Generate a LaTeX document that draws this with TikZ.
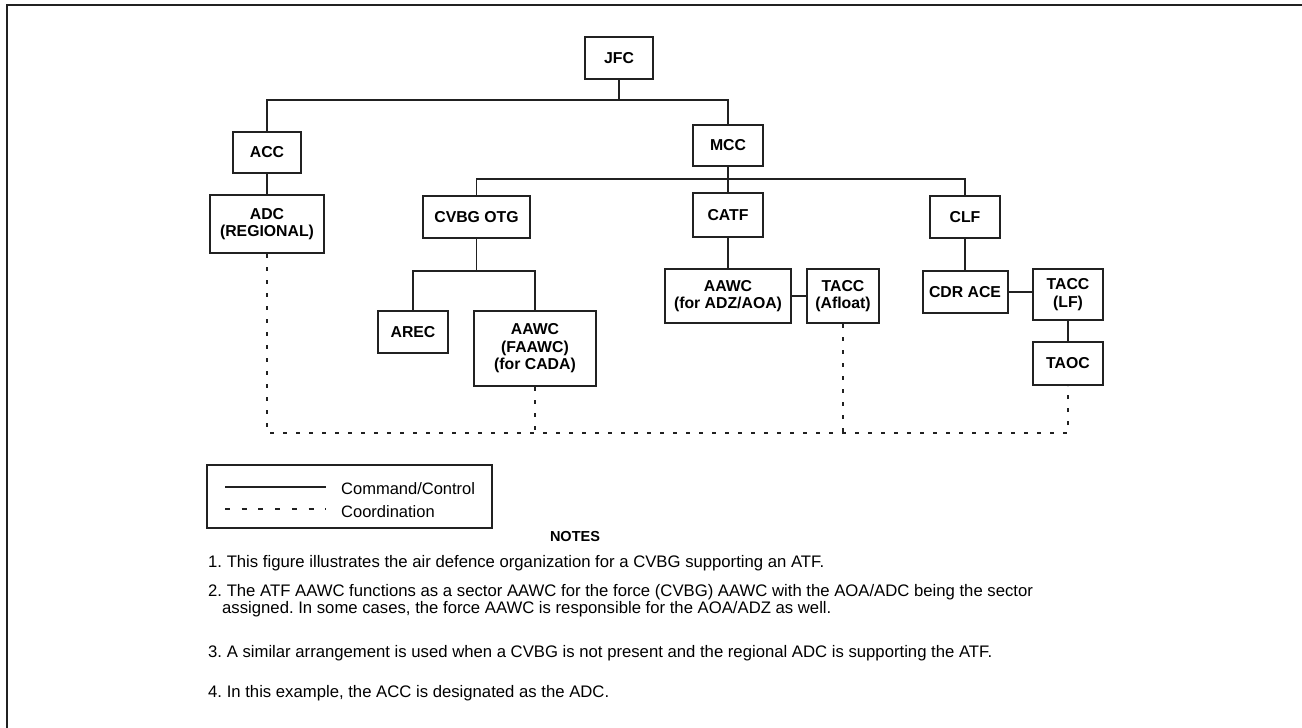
\documentclass[tikz,border=0pt]{standalone}
\usepackage{fontspec}
\setmainfont{Liberation Sans}
\frenchspacing
\begin{document}
\begin{tikzpicture}[x=1pt,y=-1pt,
  box/.style={draw=black!87, line width=2pt, align=center, inner sep=0pt,
    font=\fontsize{15.8pt}{17.5pt}\selectfont\bfseries},
  cc/.style={draw=black!87, line width=1.8pt},
  co/.style={draw=black!87, line width=2pt, dash pattern=on 4pt off 9pt},
  legdash/.style={draw=black!87, line width=1.8pt, dash pattern=on 5pt off 11.7pt},
  legtext/.style={anchor=base west, inner sep=0pt, font=\fontsize{16.5pt}{18pt}\selectfont},
  note/.style={anchor=base west, inner sep=0pt, font=\fontsize{16.7pt}{18pt}\selectfont}]
\useasboundingbox (0,0) rectangle (1302,728);

% page frame (top and left rules)
\draw[line width=2.6pt, black!87] (7,728) -- (7,5) -- (1302,5);

% organisation boxes
\node[box, minimum width=68pt, minimum height=42pt] (JFC) at (619,58) {JFC};
\node[box, minimum width=68pt, minimum height=41pt] (ACC) at (267,152.5) {ACC};
\node[box, minimum width=114pt, minimum height=58pt] (ADC) at (267,224) {ADC\\(REGIONAL)};
\node[box, minimum width=70pt, minimum height=41pt] (MCC) at (728,145.5) {MCC};
\node[box, minimum width=107pt, minimum height=42pt] (CVBG) at (476.5,217) {CVBG OTG};
\node[box, minimum width=70pt, minimum height=44pt] (CATF) at (728,215) {CATF};
\node[box, minimum width=70pt, minimum height=42pt] (CLF) at (965,217) {CLF};
\node[box, minimum width=70pt, minimum height=42pt] (AREC) at (413,332) {AREC};
\node[box, minimum width=122pt, minimum height=75pt] (FAAWC) at (535,348.5) {AAWC\\(FAAWC)\\(for CADA)};
\node[box, minimum width=126pt, minimum height=54pt] (AAWC) at (728,296) {AAWC\\(for ADZ/AOA)};
\node[box, minimum width=72pt, minimum height=54pt] (TACCA) at (843,296) {TACC\\(Afloat)};
\node[box, minimum width=85pt, minimum height=42pt] (CDR) at (965,292) {CDR ACE};
\node[box, minimum width=70pt, minimum height=51pt] (TACCL) at (1068,294.5) {TACC\\(LF)};
\node[box, minimum width=70pt, minimum height=43pt] (TAOC) at (1068,363.5) {TAOC};

% rail heights
\coordinate (railA) at (0,100);
\coordinate (railB) at (0,179);
\coordinate (railC) at (0,271);
\coordinate (railD) at (0,433);

% command / control
\draw[cc] (JFC.south) -- (JFC.south |- railA);
\draw[cc] (ACC.north) -- (ACC.north |- railA) -- (MCC.north |- railA) -- (MCC.north);
\draw[cc] (ACC.south) -- (ADC.north);
\draw[cc] (MCC.south) -- (CATF.north);
\draw[cc] (CVBG.north) -- (CVBG.north |- railB) -- (CLF.north |- railB) -- (CLF.north);
\draw[cc] (CVBG.south) -- (CVBG.south |- railC);
\draw[cc] (AREC.north) -- (AREC.north |- railC) -- (FAAWC.north |- railC) -- (FAAWC.north);
\draw[cc] (CATF.south) -- (AAWC.north);
\draw[cc] (AAWC.east) -- (TACCA.west);
\draw[cc] (CLF.south) -- (CDR.north);
\draw[cc] (CDR.east) -- (TACCL.west |- CDR.east);
\draw[cc] (TACCL.south) -- (TAOC.north);

% coordination
\draw[co] (ADC.south) -- (ADC.south |- railD) -- (TAOC.south |- railD) -- (TAOC.south);
\draw[co] (FAAWC.south) -- (FAAWC.south |- railD);
\draw[co] (TACCA.south) -- (TACCA.south |- railD);

% legend
\node[draw=black!87, line width=2pt, minimum width=285pt, minimum height=63pt, inner sep=0pt] (legend) at (349.5,496.5) {};
\coordinate (la1) at (225,487);
\coordinate (lb1) at (326,487);
\coordinate (la2) at (225,509);
\coordinate (lb2) at (326,509);
\draw[cc] (la1) -- (lb1);
\draw[legdash] (la2) -- (lb2);
\node[legtext] (lt1) at (341,494) {Command/Control};
\node[legtext] (lt2) at (341,517) {Coordination};

% notes
\node[anchor=base, inner sep=0pt, font=\fontsize{14.5pt}{16pt}\selectfont\bfseries] (notes) at (575,541) {NOTES};
\node[note] (n1) at (208,567) {1. This figure illustrates the air defence organization for a CVBG supporting an ATF.};
\node[note] (n2a) at (208,596) {2. The ATF AAWC functions as a sector AAWC for the force (CVBG) AAWC with the AOA/ADC being the sector};
\node[note] (n2b) at (222,613) {assigned. In some cases, the force AAWC is responsible for the AOA/ADZ as well.};
\node[note] (n3) at (208,657) {3. A similar arrangement is used when a CVBG is not present and the regional ADC is supporting the ATF.};
\node[note] (n4) at (208,697) {4. In this example, the ACC is designated as the ADC.};
\end{tikzpicture}
\end{document}
